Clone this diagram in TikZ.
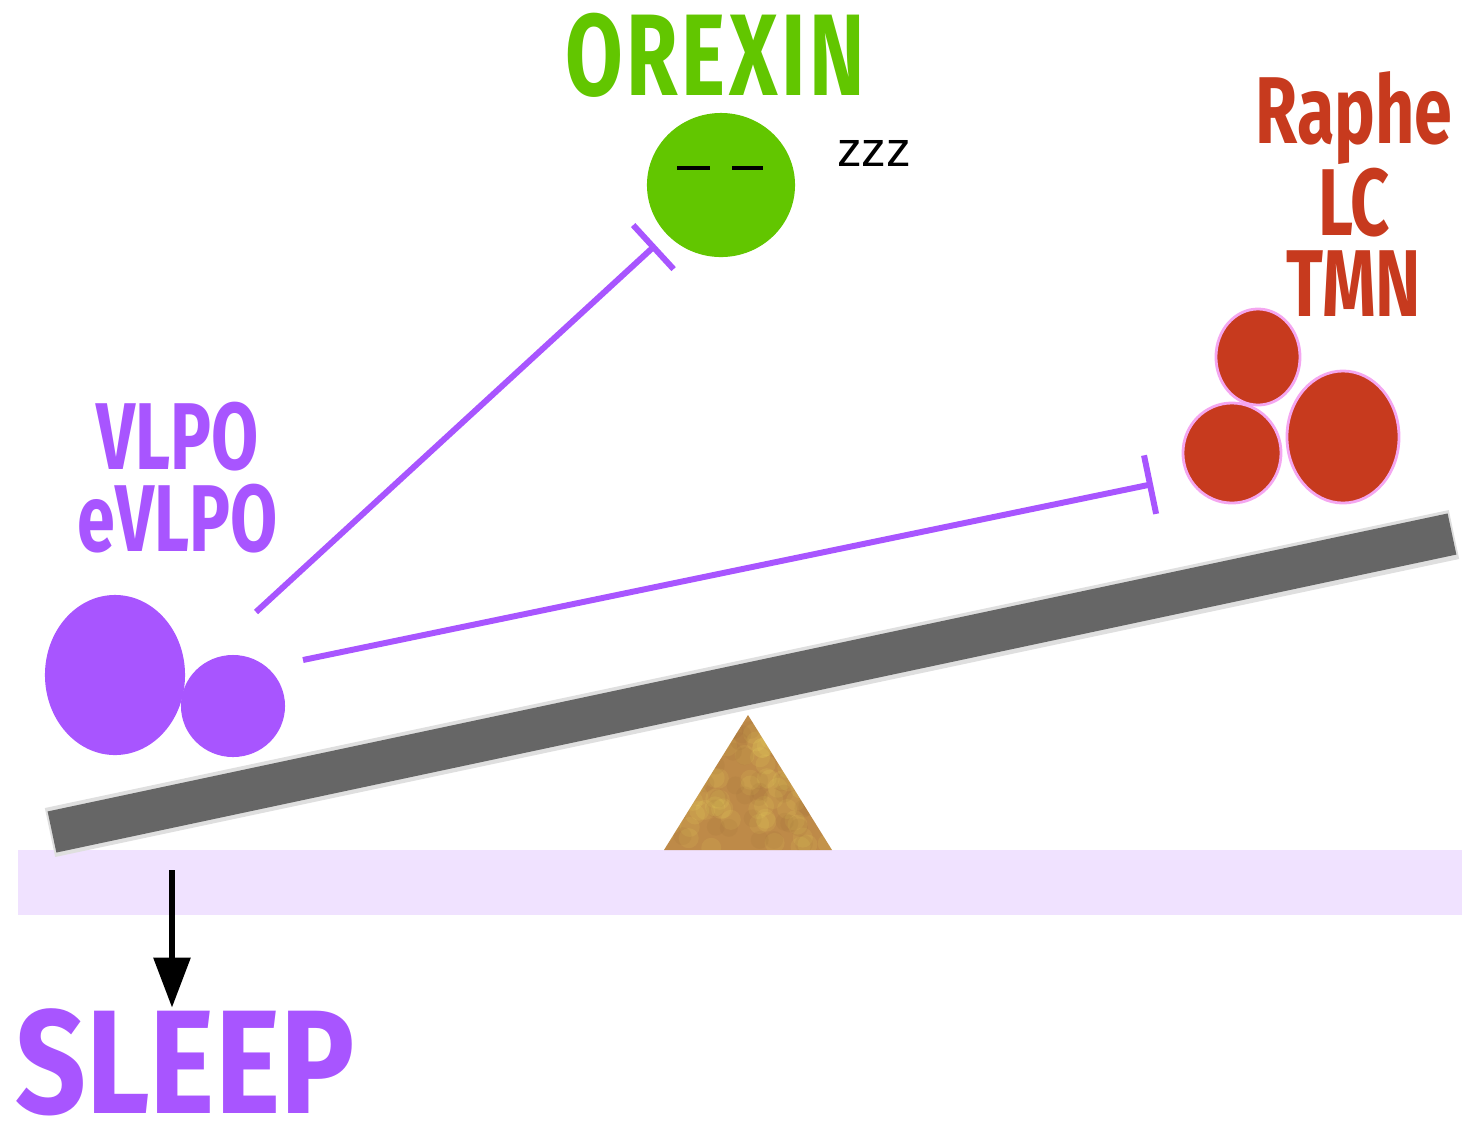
\documentclass[tikz,border=0pt]{standalone}
\usepackage{fontspec}
\newfontfamily\cellfont[FakeStretch=0.72]{Fira Sans}
\newfontfamily\sleepfont[FakeStretch=0.84]{Fira Sans}
\newfontfamily\snorefont{Liberation Sans}
\usetikzlibrary{positioning}
\usetikzlibrary{shapes.geometric}
\usetikzlibrary{arrows.meta}

\definecolor{sleeppurple}{HTML}{A855FF}
\definecolor{orexingreen}{HTML}{62C600}
\definecolor{wakered}{HTML}{C73A1E}
\definecolor{wakerim}{HTML}{F4A6F0}
\definecolor{groundlilac}{HTML}{F0E2FF}
\definecolor{beamgray}{HTML}{666666}
\definecolor{fulcrumbrown}{HTML}{BE8A48}

\begin{document}
\begin{tikzpicture}[x=0.01cm, y=-0.01cm,
	cell/.style={ellipse, inner sep=0pt},
	vlpocell/.style={cell, fill=sleeppurple},
	wakecell/.style={cell, fill=wakered, draw=wakerim, line width=0.8pt},
	lbl/.style={inner sep=0pt, align=center, font=\cellfont\bfseries\fontsize{27}{23.3}\selectfont},
	inhibit/.style={draw=sleeppurple, line width=1.7pt, -{Bar[width=17pt]}}]
	\useasboundingbox (0,0) rectangle (1462,1123);

	% floor and see-saw
	\fill[groundlilac] (18,850) rectangle (1462,915);
	\fill[fulcrumbrown] (748,715) -- (832,850) -- (664,850) -- cycle;
	\begin{scope}
		\clip (748,715) -- (832,850) -- (664,850) -- cycle;
		\pgfmathsetseed{11}
		\foreach \i in {1,...,90} {
			\pgfmathsetmacro\px{664+168*rnd}
			\pgfmathsetmacro\py{715+135*rnd}
			\fill[yellow!60!white, opacity=0.09] (\px,\py) circle (10);
		}
		\foreach \i in {1,...,50} {
			\pgfmathsetmacro\px{664+168*rnd}
			\pgfmathsetmacro\py{715+135*rnd}
			\fill[brown!70!black, opacity=0.08] (\px,\py) circle (9);
		}
	\end{scope}
	\draw[gray!25, line width=0.50cm] (50,832.5) -- (1454,534.5);
	\draw[beamgray, line width=0.42cm] (52,832) -- (1452,534);

	% cells
	\node[vlpocell, minimum width=1.40cm, minimum height=1.60cm] (vlpobig) at (115,675) {};
	\node[vlpocell, minimum width=1.04cm, minimum height=1.02cm] (vlposmall) at (233,706) {};
	\node[cell, fill=orexingreen, minimum width=1.48cm, minimum height=1.44cm] (orexin) at (721,185) {};
	\node[wakecell, minimum width=0.84cm, minimum height=0.96cm] (raphetop) at (1258,357) {};
	\node[wakecell, minimum width=0.98cm, minimum height=1.00cm] (rapheleft) at (1232,453) {};
	\node[wakecell, minimum width=1.12cm, minimum height=1.32cm] (rapheright) at (1343,437) {};

	% sleepy eyes
	\draw[line width=1pt] (orexin) ++(-44,-17) -- ++(33,0);
	\draw[line width=1pt] (orexin) ++(11,-17) -- ++(31,0);

	% labels
	\node[lbl, text=orexingreen, font=\cellfont\bfseries\fontsize{33}{33}\selectfont] (orexinlbl) at (715,55) {O\kern1ptR\kern1ptE\kern1ptX\kern1ptI\kern1ptN};
	\node[lbl, text=black, font=\snorefont\fontsize{14}{14}\selectfont] (snore) at (874,153) {zzz};
	\node[lbl, text=sleeppurple] (vlpolbl) at (178,478) {VLPO\\eVLPO};
	\node[lbl, text=wakered] (wakelbl) at (1354,194) {Raphe\\LC\\TMN};
	\node[lbl, text=sleeppurple, font=\sleepfont\bfseries\fontsize{42}{42}\selectfont] (sleep) at (185,1062) {SLEEP};

	% inhibitory projections
	\coordinate (vlpoouta) at (256,612);
	\coordinate (vlpooutb) at (303,660);
	\coordinate (wakein) at (1153,484);
	\draw[inhibit, shorten >=0.15cm] (vlpoouta) -- (orexin);
	\draw[inhibit] (vlpooutb) -- (wakein);

	% outcome
	\coordinate (sleeparrow) at (172,870);
	\draw[line width=1.7pt, -{Triangle[length=0.5cm, width=0.36cm]}] (sleeparrow) -- (sleeparrow |- sleep.north);
\end{tikzpicture}
\end{document}
